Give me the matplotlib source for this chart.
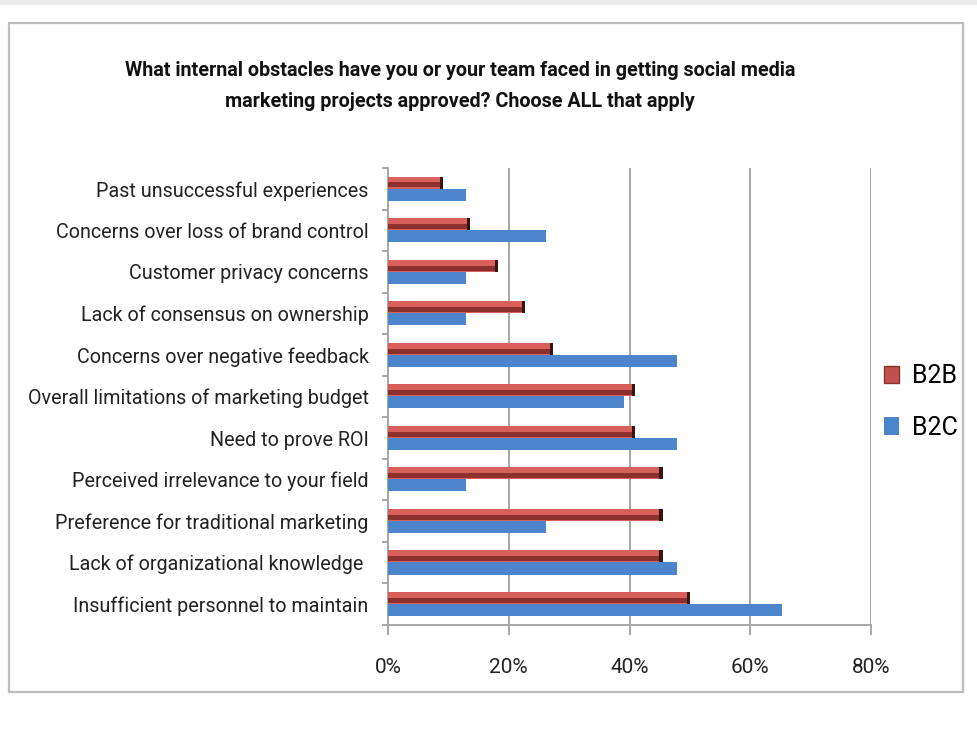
import matplotlib
matplotlib.use("Agg")
import matplotlib.pyplot as plt
from matplotlib import font_manager
from matplotlib.patches import Patch, Rectangle
import numpy as np

categories = [
    "Past unsuccessful experiences",
    "Concerns over loss of brand control",
    "Customer privacy concerns",
    "Lack of consensus on ownership",
    "Concerns over negative feedback",
    "Overall limitations of marketing budget",
    "Need to prove ROI",
    "Perceived irrelevance to your field",
    "Preference for traditional marketing",
    "Lack of organizational knowledge ",
    "Insufficient personnel to maintain",
]
b2b = [9.1, 13.6, 18.2, 22.7, 27.3, 40.9, 40.9, 45.5, 45.5, 45.5, 50.0]
b2c = [13.0, 26.1, 13.0, 13.0, 47.8, 39.1, 47.8, 13.0, 26.1, 47.8, 65.2]
xticks = [0, 20, 40, 60, 80]
xticklabels = ["0%", "20%", "40%", "60%", "80%"]
title = ("What internal obstacles have you or your team faced in getting social media\n"
         "marketing projects approved? Choose ALL that apply")

available = {f.name for f in font_manager.fontManager.ttflist}
fam = "DejaVu Sans"
for cand in ["Liberation Sans Narrow", "Roboto", "Open Sans", "Lato", "Liberation Sans"]:
    if cand in available:
        fam = cand
        break
plt.rcParams["font.family"] = [fam, "DejaVu Sans"]

W, H = 978, 743
fig = plt.figure(figsize=(W / 100, H / 100), dpi=100)
fig.patch.set_facecolor("white")

# top gray band and chart frame
fig.add_artist(Rectangle((0, 1 - 5 / H), 1, 5 / H, transform=fig.transFigure,
                         facecolor="#ebebeb", edgecolor="none"))
fig.add_artist(Rectangle((9 / W, 1 - 692 / H), (963 - 9) / W, (692 - 23) / H,
                         transform=fig.transFigure, facecolor="none",
                         edgecolor="#bdbdbd", linewidth=1.6))

ax = fig.add_axes([388 / W, 1 - 625 / H, (871 - 388) / W, (625 - 168) / H])
n = len(categories)
y = np.arange(n)
h = 0.29
red_y = y - 0.15
blue_y = y + 0.14

ax.barh(blue_y, b2c, height=h, color="#4c85cc", zorder=3)
ax.barh(red_y, b2b, height=h, color="#d8605b", zorder=3)
# darker lower band of the red bars (3D shading)
ax.barh(red_y + h * 0.2, b2b, height=h * 0.42, color="#8c302d", zorder=4)
# dark end cap
ax.barh(red_y, [0.55] * n, left=np.array(b2b) - 0.55, height=h, color="#3a1412", zorder=5)

ax.set_xlim(0, 80)
ax.set_ylim(n - 0.5, -0.5)
ax.set_xticks(xticks)
ax.set_xticklabels(xticklabels, fontsize=15, color="#222222")
ax.set_yticks(y)
ax.set_yticklabels(categories, fontsize=14.2, color="#222222")
ax.set_yticks(np.arange(-0.5, n, 1), minor=True)
ax.tick_params(axis="y", which="major", length=0, pad=14)
ax.tick_params(axis="y", which="minor", length=4, color="#999999", width=1.2, direction="out")
ax.tick_params(axis="x", which="major", length=7, color="#999999", width=1.2, pad=17)
ax.grid(axis="x", color="#a6a6a6", linewidth=1.4, zorder=0)
for s in ["top", "right"]:
    ax.spines[s].set_visible(False)
for s in ["left", "bottom"]:
    ax.spines[s].set_color("#a6a6a6")
    ax.spines[s].set_linewidth(1.4)

fig.text(460 / W, 1 - 86 / H, title, ha="center", va="center", fontsize=14.2,
         fontweight="bold", linespacing=1.75, color="#111111")

handles = [Patch(facecolor="#c0504d", edgecolor="#8c302d"), Patch(facecolor="#4c85cc")]
fig.legend(handles, ["B2B", "B2C"], loc="center left",
           bbox_to_anchor=(862 / W, 1 - 402 / H), frameon=False, fontsize=18,
           handlelength=0.6, handleheight=0.7, handletextpad=0.5, labelspacing=1.1)

fig.savefig("out.png", dpi=100, facecolor="white")
